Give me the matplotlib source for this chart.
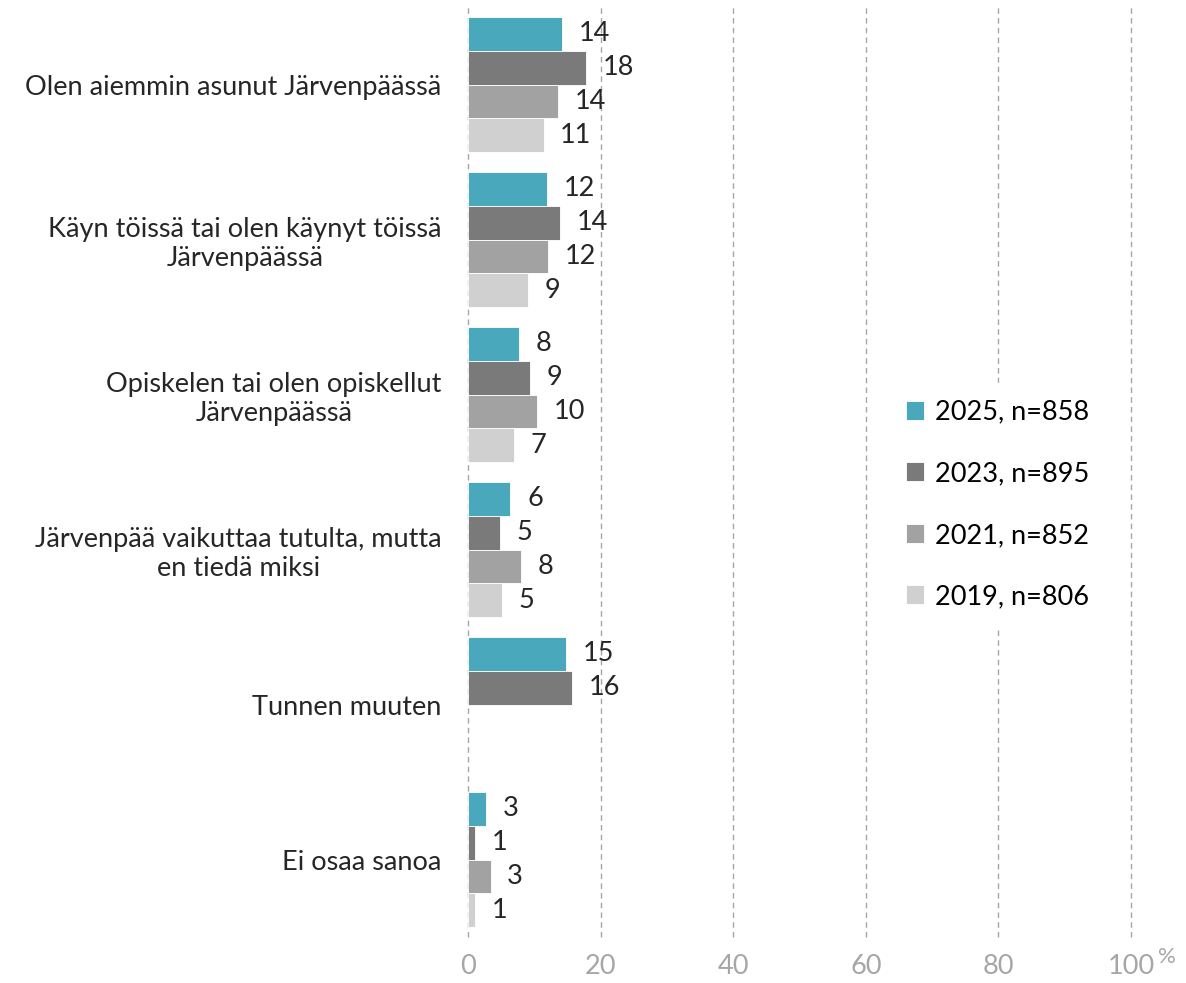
import matplotlib

matplotlib.use("Agg")
import matplotlib.pyplot as plt
import numpy as np

kategoriat = [
    "Olen aiemmin asunut Järvenpäässä",
    "Käyn töissä tai olen käynyt töissä\nJärvenpäässä",
    "Opiskelen tai olen opiskellut\nJärvenpäässä",
    "Järvenpää vaikuttaa tutulta, mutta\nen tiedä miksi",
    "Tunnen muuten",
    "Ei osaa sanoa",
]
sarjat = ["2025, n=858", "2023, n=895", "2021, n=852", "2019, n=806"]
v2025 = [14.2, 11.9, 7.7, 6.4, 14.8, 2.7]
v2023 = [17.8, 13.9, 9.4, 4.8, 15.7, 1.1]
v2021 = [13.6, 12.1, 10.4, 8.0, np.nan, 3.4]
v2019 = [11.4, 9.0, 6.9, 5.1, np.nan, 1.1]
arvot = [v2025, v2023, v2021, v2019]
varit = ["#4aa8bd", "#7a7a7a", "#a2a2a2", "#d0d0d0"]

plt.rcParams["font.family"] = ["Lato", "DejaVu Sans"]
FS = 19.5

fig = plt.figure(figsize=(11.86, 9.83), dpi=100)
ax = fig.add_axes([0.3946, 0.0468, 0.559, 0.946])

korkeus = 0.218
y = np.arange(len(kategoriat))
for i, (sarja, vals, vari) in enumerate(zip(sarjat, arvot, varit)):
    pos = y - 1.5 * korkeus + i * korkeus
    ax.barh(pos, vals, height=korkeus, color=vari, edgecolor="white",
            linewidth=0.6, label=sarja, zorder=2)
    for p, v in zip(pos, vals):
        if np.isnan(v):
            continue
        ax.annotate(f"{v:.0f}", (v, p), xytext=(12, 0), textcoords="offset points",
                    va="center", ha="left", fontsize=FS, color="#262626")

ax.set_xlim(0, 100)
ax.set_ylim(len(kategoriat) - 0.5, -0.5)
ax.set_xticks(range(0, 101, 20))
ax.set_yticks(y)
ax.set_yticklabels(kategoriat, fontsize=FS, color="#262626")
ax.tick_params(axis="y", length=0, pad=19)
ax.tick_params(axis="x", length=0, pad=12, labelsize=FS, labelcolor="#a6a6a6")
for lado in ax.spines.values():
    lado.set_visible(False)
ax.grid(axis="x", color="#a6a6a6", linestyle=(0, (4, 3)), linewidth=1.0, zorder=0)
for g in ax.get_xgridlines():
    g.set_clip_on(False)
ax.set_axisbelow(True)
for lbl in ax.get_yticklabels():
    lbl.set_multialignment("center")

fig.text(0.984, 0.026, "%", fontsize=16, color="#a6a6a6", ha="center", va="center")

leg = ax.legend(loc="center left", bbox_to_anchor=(0.615, 0.465), fontsize=FS,
                frameon=True, edgecolor="white", facecolor="white", framealpha=1,
                labelspacing=1.35, handlelength=0.7, handleheight=0.7,
                handletextpad=0.4, borderpad=0.6)
leg.set_zorder(5)

fig.savefig("out.png", dpi=100)
